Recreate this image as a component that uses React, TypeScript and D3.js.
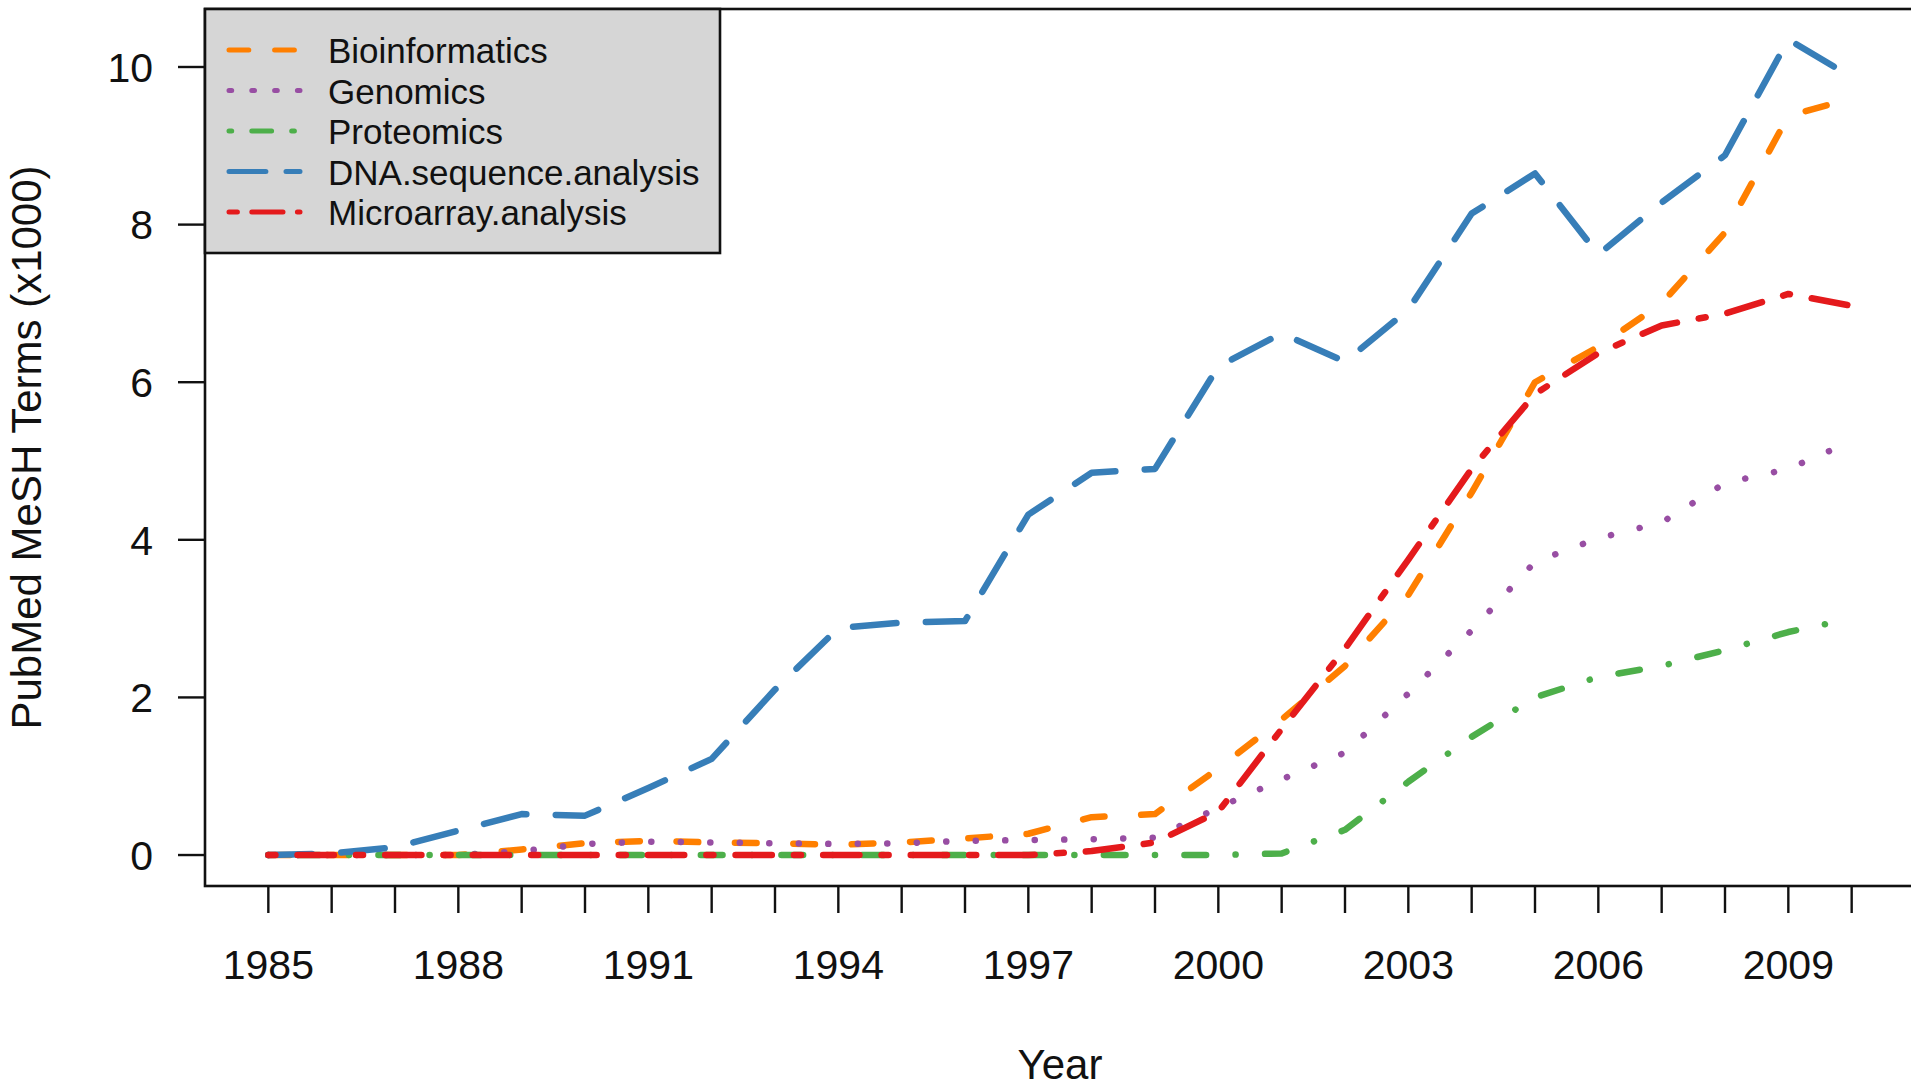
import React from 'react';
import * as d3 from 'd3';

// values (x1000 MeSH terms per year)
const years = [1985, 1986, 1987, 1988, 1989, 1990, 1991, 1992, 1993, 1994, 1995, 1996, 1997,
  1998, 1999, 2000, 2001, 2002, 2003, 2004, 2005, 2006, 2007, 2008, 2009, 2010];

const bioinformatics = [0, 0, 0, 0, 0.07, 0.15, 0.18, 0.16, 0.15, 0.13, 0.16, 0.21, 0.27,
  0.48, 0.52, 1.1, 1.72, 2.4, 3.3, 4.6, 6.0, 6.45, 7.0, 7.9, 9.38, 9.6];
const genomics = [0, 0, 0, 0, 0.05, 0.14, 0.17, 0.16, 0.15, 0.14, 0.15, 0.18, 0.19,
  0.2, 0.22, 0.6, 0.96, 1.3, 2.05, 2.85, 3.72, 4.02, 4.22, 4.72, 4.9, 5.25];
const proteomics = [0, 0, 0, 0, 0, 0, 0, 0, 0, 0, 0, 0, 0,
  0, 0, 0, 0.02, 0.32, 0.93, 1.5, 2.0, 2.26, 2.4, 2.6, 2.83, 3.0];
const dnaSequence = [0, 0.02, 0.1, 0.31, 0.52, 0.5, 0.85, 1.22, 2.1, 2.88, 2.95, 2.97, 4.32,
  4.85, 4.9, 6.2, 6.62, 6.26, 6.92, 8.14, 8.65, 7.62, 8.28, 8.88, 10.35, 9.87];
const microarray = [0, 0, 0, 0, 0, 0, 0, 0, 0, 0, 0, 0, 0,
  0.05, 0.16, 0.55, 1.6, 2.62, 3.75, 4.9, 5.85, 6.37, 6.72, 6.87, 7.12, 6.97];

const seriesNames = ['Bioinformatics', 'Genomics', 'Proteomics', 'DNA.sequence.analysis', 'Microarray.analysis'];
const seriesValues = [bioinformatics, genomics, proteomics, dnaSequence, microarray];
const seriesColors = ['#FF7F00', '#984EA3', '#4DAF4A', '#377EB8', '#E41A1C'];
// R line types: dashed, dotted, dotdash, longdash, twodash
const seriesLty = ['44', '13', '1343', '73', '2262'];

const yTicks = [0, 2, 4, 6, 8, 10];
const xLabelYears = [1985, 1988, 1991, 1994, 1997, 2000, 2003, 2006, 2009];

const W = 1911;
const H = 1089;
const plot = { left: 205, right: 1915, top: 9, bottom: 886 };
const FONT = '"Liberation Sans", Arial, Helvetica, sans-serif';

// turn an R lty hex string into an svg dasharray (round caps eat into the gaps)
function dashArray(lty: string, unit: number, width: number, extra: number) {
  return lty
    .split('')
    .map((c, i) => {
      const len = parseInt(c, 16) * unit;
      return i % 2 === 0 ? Math.max(len + extra - width, 0.1) : len - extra + width;
    })
    .join(' ');
}

export default function App() {
  const x = d3.scaleLinear().domain([1984, 2011]).range([plot.left, plot.right]);
  const y = d3.scaleLinear().domain([-0.393, 10.736]).range([plot.bottom, plot.top]);

  const line = d3
    .line<number>()
    .x((_, i) => x(years[i]))
    .y((d) => y(d));

  const lineW = 6.5;
  const legendW = 5;

  return (
    <svg
      width={W}
      height={H}
      style={{ position: 'absolute', left: 0, top: 0, background: '#fff' }}
      fontFamily={FONT}
    >
      {/* series */}
      {seriesValues.map((vals, k) => (
        <path
          key={seriesNames[k]}
          d={line(vals) || ''}
          fill="none"
          stroke={seriesColors[k]}
          strokeWidth={lineW}
          strokeLinecap="round"
          strokeLinejoin="round"
          strokeDasharray={dashArray(seriesLty[k], 7.3, lineW, -1)}
        />
      ))}

      {/* plot box */}
      <rect
        x={plot.left}
        y={plot.top}
        width={plot.right - plot.left}
        height={plot.bottom - plot.top}
        fill="none"
        stroke="#111"
        strokeWidth={2.6}
      />

      {/* x axis */}
      {years.map((yr) => (
        <line key={yr} x1={x(yr)} x2={x(yr)} y1={plot.bottom} y2={plot.bottom + 27} stroke="#111" strokeWidth={2.4} />
      ))}
      {xLabelYears.map((yr) => (
        <text key={yr} x={x(yr)} y={979} textAnchor="middle" fontSize={41} fill="#111">
          {yr}
        </text>
      ))}
      <text x={(plot.left + plot.right) / 2} y={1079} textAnchor="middle" fontSize={42} fill="#111">
        Year
      </text>

      {/* y axis */}
      {yTicks.map((t) => (
        <g key={t}>
          <line x1={plot.left - 27} x2={plot.left} y1={y(t)} y2={y(t)} stroke="#111" strokeWidth={2.4} />
          <text x={153} y={y(t)} dy="0.36em" textAnchor="end" fontSize={41} fill="#111">
            {t}
          </text>
        </g>
      ))}
      <text
        transform={`translate(41,${(plot.top + plot.bottom) / 2}) rotate(-90)`}
        textAnchor="middle"
        fontSize={42}
        fill="#111"
      >
        PubMed MeSH Terms (x1000)
      </text>

      {/* legend */}
      <g>
        <rect x={plot.left} y={plot.top} width={515} height={244} fill="#d6d6d6" stroke="#111" strokeWidth={2.6} />
        {seriesNames.map((name, k) => {
          const ry = 50 + k * 40.5;
          return (
            <g key={name}>
              <line
                x1={229}
                x2={300}
                y1={ry}
                y2={ry}
                stroke={seriesColors[k]}
                strokeWidth={legendW}
                strokeLinecap="round"
                strokeDasharray={dashArray(seriesLty[k], 5.7, legendW, 2)}
              />
              <text x={328} y={ry + 1} dy="0.35em" fontSize={35} fill="#111">
                {name}
              </text>
            </g>
          );
        })}
      </g>
    </svg>
  );
}
